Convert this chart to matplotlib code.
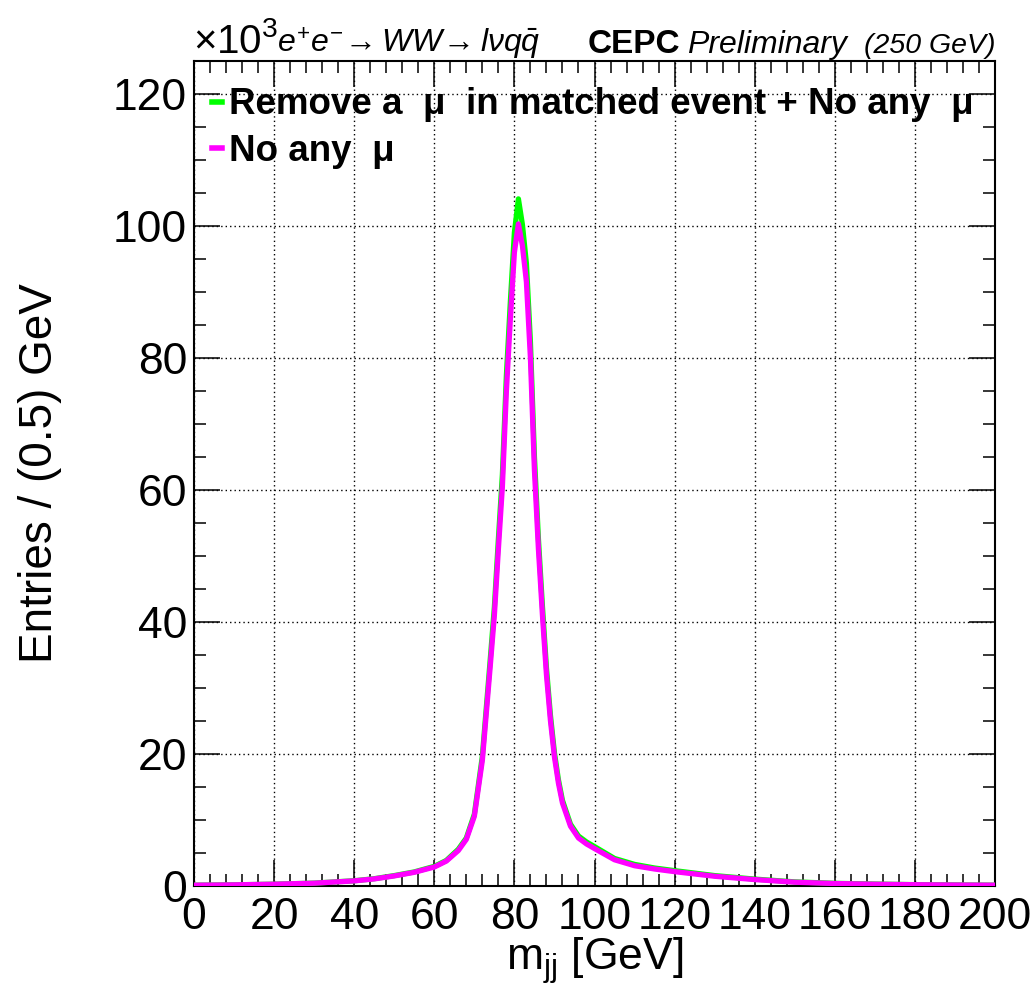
import numpy as np
import matplotlib
matplotlib.use("Agg")
import matplotlib.pyplot as plt
from matplotlib.ticker import MultipleLocator

# =====================
#  data (m_jj in GeV, entries in 10^3 / 0.5 GeV)
# =====================
mjj = [0, 10, 20, 30, 40, 45, 50, 55, 60, 63, 66, 68, 70, 72, 74, 75, 76, 77,
       78, 79, 80, 81, 82, 83, 84, 85, 86, 87, 88, 89, 90, 91, 92, 94, 96, 98,
       100, 105, 110, 115, 120, 130, 140, 150, 160, 170, 180, 190, 200]

no_any_mu = [0.05, 0.1, 0.2, 0.35, 0.7, 1.0, 1.45, 2.0, 2.8, 3.7, 5.3, 7.0,
             10.5, 19.0, 33.5, 41.0, 51.0, 60.5, 75.0, 86.0, 96.0, 100.3, 97.0,
             91.5, 80.0, 63.0, 51.0, 41.0, 32.0, 25.0, 19.5, 15.5, 12.5, 9.0,
             7.2, 6.3, 5.6, 3.9, 3.0, 2.5, 2.1, 1.4, 0.9, 0.5, 0.3, 0.2, 0.12,
             0.08, 0.05]

remove_mu = [0.05, 0.1, 0.2, 0.36, 0.72, 1.03, 1.5, 2.06, 2.9, 3.8, 5.5, 7.2,
             10.8, 19.6, 34.5, 42.2, 52.5, 62.3, 77.3, 88.6, 99.0, 104.1, 100.2,
             94.3, 82.4, 65.0, 52.5, 42.3, 33.0, 25.8, 20.1, 16.0, 12.9, 9.3,
             7.5, 6.6, 5.9, 4.1, 3.2, 2.65, 2.25, 1.5, 0.97, 0.55, 0.33, 0.22,
             0.13, 0.09, 0.05]

labels = ["Remove a  \u03bc  in matched event + No any  \u03bc",
          "No any  \u03bc"]
colors = ["#00ff00", "#ff00ff"]

W, H = 1036, 990
plt.rcParams["font.family"] = ["Liberation Sans", "DejaVu Sans"]
plt.rcParams["mathtext.fontset"] = "custom"
plt.rcParams["mathtext.rm"] = "Liberation Sans"
plt.rcParams["mathtext.it"] = "Liberation Sans:italic"
plt.rcParams["mathtext.bf"] = "Liberation Sans:bold"


def px(x, y):
    # pixel position in the picture -> figure fraction
    return x / W, 1 - y / H


fig = plt.figure(figsize=(W / 100, H / 100), dpi=100)
ax = fig.add_axes([194 / W, 1 - 885.5 / H, (995 - 194) / W, (885.5 - 61) / H])

ax.plot(mjj, remove_mu, color=colors[0], lw=3.8, label=labels[0], zorder=3)
ax.plot(mjj, no_any_mu, color=colors[1], lw=3.8, label=labels[1], zorder=4)

ax.set_xlim(0, 200)
ax.set_ylim(0, 125)
ax.xaxis.set_major_locator(MultipleLocator(20))
ax.xaxis.set_minor_locator(MultipleLocator(4))
ax.yaxis.set_major_locator(MultipleLocator(20))
ax.yaxis.set_minor_locator(MultipleLocator(5))
ax.tick_params(which="both", direction="in", top=True, right=True,
               width=1.1, labelsize=32, pad=5)
ax.tick_params(axis="x", pad=8)
ax.tick_params(which="major", length=18.5)
ax.tick_params(which="minor", length=8.5)
for s in ax.spines.values():
    s.set_linewidth(1.5)

ax.grid(True, which="major", color="black", linestyle=(0, (1, 2.2)),
        linewidth=1.0, zorder=1)
ax.set_axisbelow(True)

ax.set_xlabel(r"m$_{\rm jj}$ [GeV]", fontsize=32)
ax.xaxis.set_label_coords(0.5, -0.06)
ax.set_ylabel("Entries / (0.5) GeV", fontsize=33, va="center")
ax.yaxis.set_label_coords(-0.192, 0.5)

leg = ax.legend(loc="upper left", bbox_to_anchor=(0.022, 0.968),
                frameon=False, handlelength=0.27,
                handletextpad=0.2, labelspacing=0.32, borderpad=0,
                borderaxespad=0, prop={"weight": "bold", "size": 26.5})
for line in leg.get_lines():
    line.set_linewidth(4)

# header texts
fig.text(*px(193, 53), r"$\times10^{3}$", fontsize=29, va="baseline", ha="left")
fig.text(*px(277, 53), r"$e^{+}e^{-}\!\rightarrow WW\!\rightarrow l\nu q\bar{q}$",
         fontsize=23, va="baseline", ha="left")
fig.text(*px(680, 53), "CEPC", fontsize=24, fontweight="bold",
         va="baseline", ha="right")
fig.text(*px(847, 53), "Preliminary", fontsize=23, style="italic",
         va="baseline", ha="right")
fig.text(*px(995, 53), "(250 GeV)", fontsize=20.5, style="italic",
         va="baseline", ha="right")

fig.savefig("out.png", dpi=100)
